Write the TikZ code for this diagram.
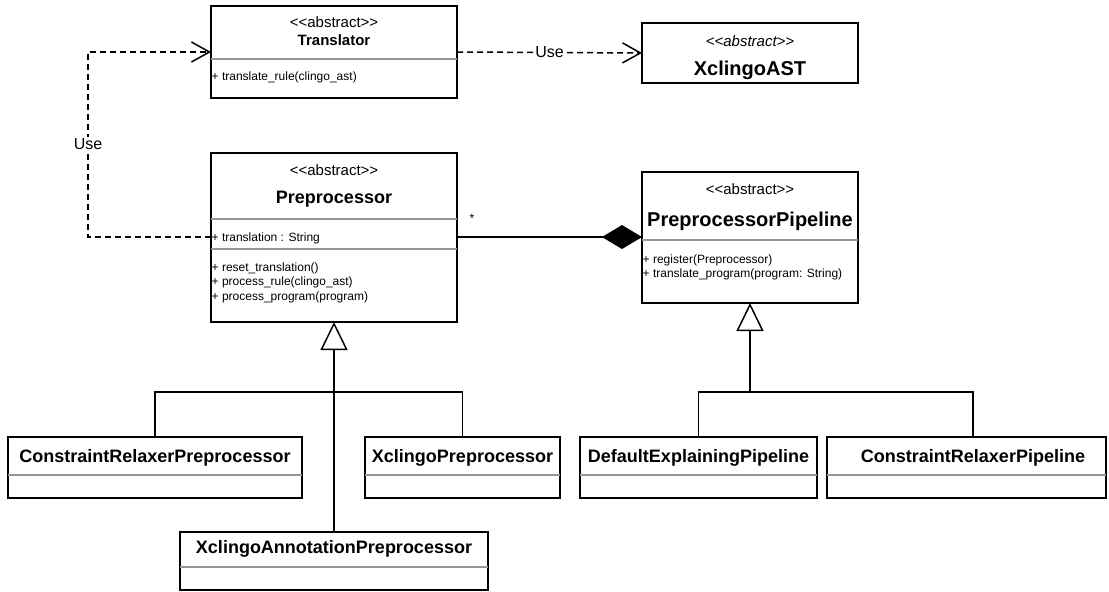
\documentclass[tikz,border=0pt]{standalone}
\usepackage{fontspec}
\setmainfont{Liberation Sans}
\usetikzlibrary{arrows.meta}
\definecolor{sepgray}{RGB}{150,150,150}
\newcommand{\stereotype}[1]{<\kern0pt<#1>\kern0pt>}
\tikzset{
  cls/.style={draw=black, line width=1.3pt, fill=white, rectangle,
    anchor=north west, inner sep=0pt, outer sep=0pt},
  sepline/.style={draw=sepgray, line width=1.3pt},
  stereo/.style={anchor=base, inner sep=0pt, font=\fontsize{15}{18}\selectfont},
  cname/.style={anchor=base, inner sep=0pt, font=\bfseries\fontsize{#1}{#1}\selectfont},
  cname/.default=18,
  member/.style={anchor=base west, inner sep=0pt, font=\fontsize{12}{14}\selectfont},
  conn/.style={draw=black, line width=1.5pt},
  usedep/.style={conn, dash pattern=on 6pt off 4pt,
    -{Straight Barb[length=18pt,width=20pt]}},
  inherit/.style={conn, -{Triangle[length=28pt,width=27pt,fill=white]}},
  compose/.style={conn, -{Diamond[length=40pt,width=24pt,fill=black]}},
  lbl/.style={inner sep=1pt, fill=white, font=\fontsize{16}{18}\selectfont},
}
\begin{document}
\begin{tikzpicture}[x=1pt,y=-1pt]
\useasboundingbox (0,0) rectangle (1109,592);
\fill[white] (0,0) rectangle (1109,592);

% ---- Translator ----
\node[cls, minimum width=246pt, minimum height=92pt] (tr) at (211,6) {};
\draw[sepline] (211,59) -- (457,59);
\node[stereo] (trst) at (334,27) {\stereotype{abstract}};
\node[cname=15] (trnm) at (334,45) {Translator};
\node[member] (trm1) at (211.5,80) {+ translate\_rule(clingo\_ast)};

% ---- XclingoAST ----
\node[cls, minimum width=216pt, minimum height=60pt] (ast) at (642,23) {};
\node[stereo, font=\itshape\fontsize{15}{18}\selectfont] (astst) at (750,46) {\stereotype{abstract}};
\node[cname=20] (astnm) at (750,75) {XclingoAST};

% ---- Preprocessor ----
\node[cls, minimum width=246pt, minimum height=169pt] (prep) at (211,153) {};
\draw[sepline] (211,219) -- (457,219);
\draw[sepline] (211,249) -- (457,249);
\node[stereo] (prepst) at (334,175) {\stereotype{abstract}};
\node[cname=18] (prepnm) at (334,203) {Preprocessor};
\node[member] (prepa1) at (211.5,241) {+ translation : String};
\node[member] (prepm1) at (211.5,271) {+ reset\_translation()};
\node[member] (prepm2) at (211.5,285) {+ process\_rule(clingo\_ast)};
\node[member] (prepm3) at (211.5,300) {+ process\_program(program)};

% ---- PreprocessorPipeline ----
\node[cls, minimum width=216pt, minimum height=131pt] (pipe) at (642,172) {};
\draw[sepline] (642,240) -- (858,240);
\node[stereo] (pipest) at (750,194) {\stereotype{abstract}};
\node[cname=20] (pipenm) at (750,226) {PreprocessorPipeline};
\node[member] (pipem1) at (642.5,263) {+ register(Preprocessor)};
\node[member] (pipem2) at (642.5,277) {+ translate\_program(program: String)};

% ---- concrete preprocessors ----
\node[cls, minimum width=294pt, minimum height=61pt] (crp) at (8,437) {};
\draw[sepline] (8,475) -- (302,475);
\node[cname=18] (crpnm) at (155,462) {ConstraintRelaxerPreprocessor};

\node[cls, minimum width=195pt, minimum height=61pt] (xp) at (365,437) {};
\draw[sepline] (365,475) -- (560,475);
\node[cname=18] (xpnm) at (462.5,462) {XclingoPreprocessor};

\node[cls, minimum width=308pt, minimum height=58pt] (ann) at (180,532) {};
\draw[sepline] (180,567) -- (488,567);
\node[cname=18] (annnm) at (334,553) {XclingoAnnotationPreprocessor};

% ---- concrete pipelines ----
\node[cls, minimum width=237pt, minimum height=61pt] (dep) at (580,437) {};
\draw[sepline] (580,475) -- (817,475);
\node[cname=18] (depnm) at (698.5,462) {DefaultExplainingPipeline};

\node[cls, minimum width=279pt, minimum height=61pt] (crpl) at (827,437) {};
\draw[sepline] (827,475) -- (1106,475);
\node[cname=18] (crplnm) at (973,462) {ConstraintRelaxerPipeline};

% ---- dependencies ----
\draw[usedep] (tr.east) -- node[lbl] (use1) {Use} (ast.west);

\coordinate (prepuse) at (211,237);
\coordinate (usebend1) at (88,237);
\coordinate (usebend2) at (88,52);
\draw[usedep] (prepuse) -- (usebend1) -- (usebend2) -- (tr.west);
\node[lbl] (use2) at (88,144) {Use};

% ---- composition ----
\coordinate (compa) at (457,237);
\coordinate (compb) at (642,237);
\draw[compose] (compa) -- (compb);
\node[inner sep=0pt, font=\fontsize{12}{14}\selectfont] (mult) at (472,218) {*};

% ---- generalisations ----
\coordinate (jprep) at (334,392);
\draw[inherit] (ann.north) -- (prep.south);
\draw[conn] (crp.north) |- (jprep) -| (xp.north);

\coordinate (jpipe) at (750,392);
\coordinate (crplin) at (973,437);
\draw[inherit] (jpipe) -- (pipe.south);
\draw[conn] (dep.north) |- (jpipe) -| (crplin);
\end{tikzpicture}
\end{document}
